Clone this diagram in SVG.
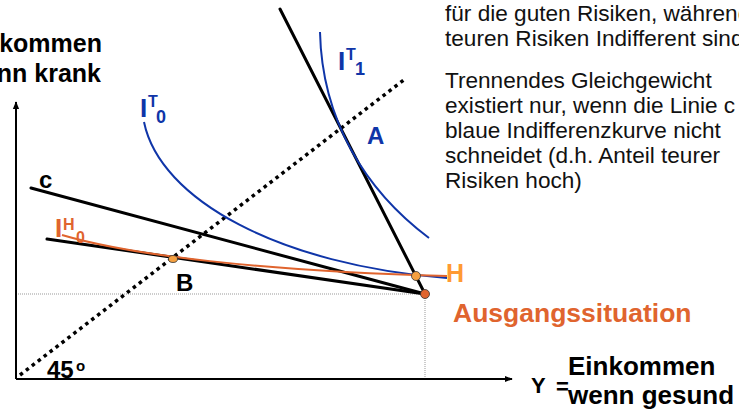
<svg xmlns="http://www.w3.org/2000/svg" width="739" height="414" viewBox="0 0 739 414">
<style>
text{font-family:"Liberation Sans",Arial,sans-serif}
.b{font-weight:bold}
.txt{font-size:22.6px;fill:#111}
.blk{stroke:#000;stroke-width:3;fill:none;stroke-linecap:round}
.blue{stroke:#0F35A8;stroke-width:2;fill:none}
.org{stroke:#E0642E;stroke-width:2;fill:none}
.grid{stroke:#999;stroke-width:1;stroke-dasharray:1 1;fill:none}
.axis{stroke:#000;stroke-width:2;fill:none}
</style>
<defs>
<marker id="arr" viewBox="0 0 10 10" refX="9" refY="5" markerWidth="4" markerHeight="4" orient="auto">
<path d="M0,1 L10,5 L0,9 Z" fill="#000"/>
</marker>
</defs>
<rect width="739" height="414" fill="#fff"/>
<!-- guides -->
<path class="grid" d="M16,294 H425 M425,294 V379"/>
<!-- axes -->
<path class="axis" d="M16,379 V102" marker-end="url(#arr)"/>
<path class="axis" d="M16,379 H512" marker-end="url(#arr)"/>
<!-- 45 degree -->
<path d="M20,375 L405,79" stroke="#000" stroke-width="3.5" stroke-dasharray="3.5 4" fill="none"/>
<!-- budget lines -->
<path class="blk" d="M31,188 L425,294"/>
<path class="blk" d="M47,239 L425,294"/>
<path class="blk" d="M280,9 L425,294"/>
<!-- indifference curves -->
<path class="blue" d="M144,122 C160,200 280,265 447,278"/>
<path class="blue" d="M320,32 C322,120 365,190 429,238"/>
<path class="org" d="M62,235 C130,255 260,271 447,276"/>
<!-- points -->
<ellipse cx="173" cy="259" rx="4.5" ry="3.5" fill="#F5A040" stroke="#333" stroke-width="0.8"/>
<circle cx="416" cy="276" r="4.5" fill="#F5A040" stroke="#333" stroke-width="0.8"/>
<circle cx="425" cy="294" r="4.5" fill="#E0642E" stroke="#333" stroke-width="0.8"/>
<!-- labels -->
<text class="b" x="102" y="52" font-size="25" text-anchor="end">Einkommen</text>
<text class="b" x="101" y="82" font-size="25" text-anchor="end">wenn krank</text>
<text class="b" fill="#0F35A8" x="140" y="117" font-size="26">I<tspan x="148" y="107" font-size="16">T</tspan><tspan x="156" y="123" font-size="18">0</tspan></text>
<text class="b" fill="#0F35A8" x="338" y="70" font-size="26">I<tspan x="346" y="60" font-size="16">T</tspan><tspan x="355" y="75" font-size="18">1</tspan></text>
<text class="b" fill="#0F35A8" x="367" y="144" font-size="24">A</text>
<text class="b" x="176" y="291" font-size="24">B</text>
<text class="b" x="39" y="188" font-size="24">c</text>
<text class="b" fill="#E0642E" x="55" y="237" font-size="26">I<tspan x="63" y="230" font-size="16">H</tspan><tspan x="76" y="243" font-size="16">0</tspan></text>
<text class="b" fill="#FF9A33" x="446" y="282" font-size="25">H</text>
<text class="b" fill="#E0642E" x="453" y="322" font-size="26.5">Ausgangssituation</text>
<text class="b" x="47" y="378" font-size="24">45<tspan x="76" y="371" font-size="15">o</tspan></text>
<text class="b" x="531" y="393" font-size="22">Y</text>
<text class="b" x="556" y="394" font-size="22">=</text>
<text class="b" x="568" y="375" font-size="26">Einkommen</text>
<text class="b" x="568" y="404" font-size="26">wenn gesund</text>
<!-- explanation text -->
<text class="txt" x="445" y="21">für die guten Risiken, während</text>
<text class="txt" x="445" y="46">teuren Risiken Indifferent sind</text>
<text class="txt" x="445" y="88">Trennendes Gleichgewicht</text>
<text class="txt" x="445" y="113">existiert nur, wenn die Linie c</text>
<text class="txt" x="445" y="138">blaue Indifferenzkurve nicht</text>
<text class="txt" x="445" y="163">schneidet (d.h. Anteil teurer</text>
<text class="txt" x="445" y="188">Risiken hoch)</text>
</svg>
